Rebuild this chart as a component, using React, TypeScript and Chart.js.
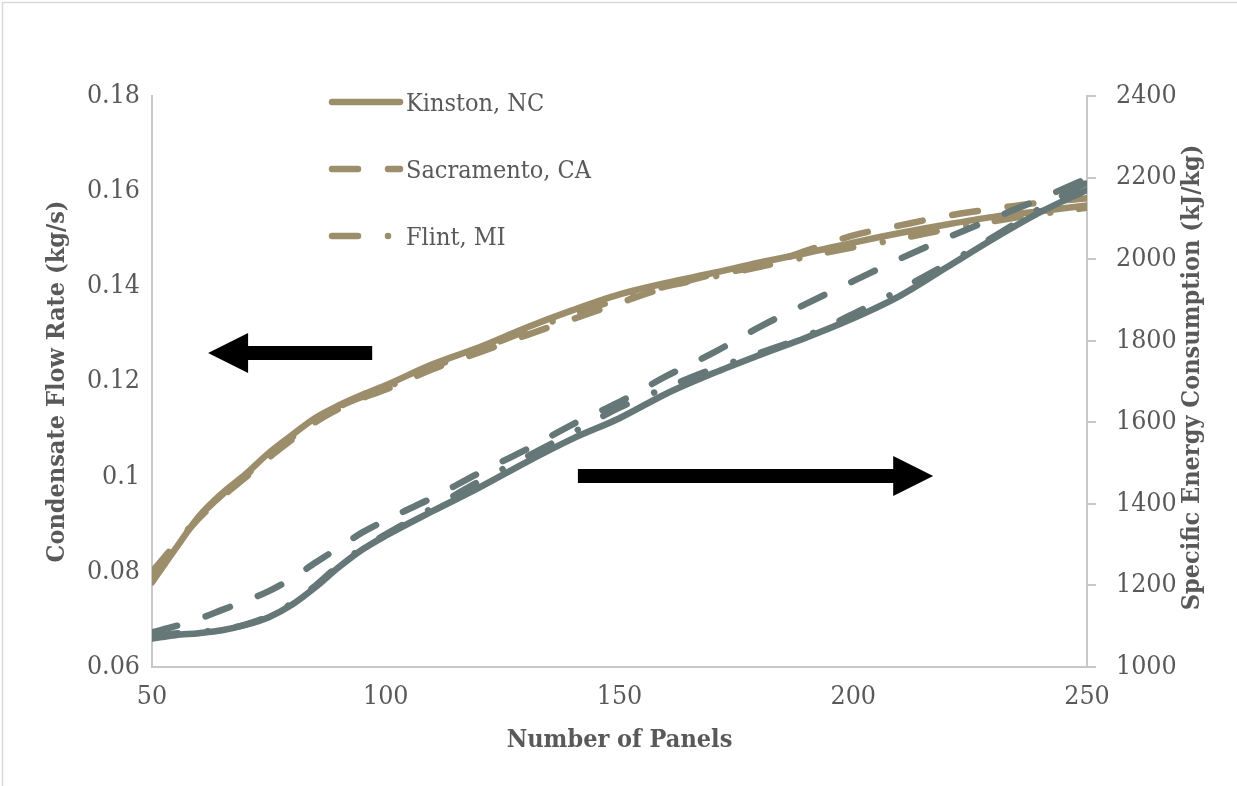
import React, { useEffect, useRef } from 'react';
import { Chart, registerables } from 'chart.js';
Chart.register(...registerables);

// ---------- data ----------
const panels = [50, 55, 60, 65, 70, 75, 80, 85, 90, 95, 100, 110, 120, 130, 140, 150, 160, 170, 180, 190, 200, 210, 220, 230, 240, 250];

// Condensate flow rate (kg/s), left axis
const kinstonFlow = [0.0778, 0.0848, 0.0916, 0.0965, 0.1005, 0.1050, 0.1088, 0.1124, 0.1150, 0.1172, 0.1192, 0.1236, 0.1272, 0.1313, 0.1350, 0.1383, 0.1407, 0.1428, 0.1450, 0.1470, 0.1492, 0.1512, 0.1530, 0.1546, 0.1558, 0.1570];
const sacramentoFlow = [0.0795, 0.0855, 0.0912, 0.0958, 0.0998, 0.1040, 0.1078, 0.1115, 0.1143, 0.1165, 0.1183, 0.1226, 0.1261, 0.1297, 0.1331, 0.1365, 0.1398, 0.1425, 0.1442, 0.1475, 0.1507, 0.1528, 0.1548, 0.1563, 0.1576, 0.1585];
const flintFlow = [0.0800, 0.0858, 0.0915, 0.0962, 0.1002, 0.1045, 0.1083, 0.1120, 0.1147, 0.1168, 0.1187, 0.1230, 0.1267, 0.1306, 0.1341, 0.1373, 0.1400, 0.1420, 0.1441, 0.1462, 0.1482, 0.1500, 0.1520, 0.1537, 0.1552, 0.1565];

// Specific energy consumption (kJ/kg), right axis
const kinstonSEC = [1070, 1078, 1083, 1090, 1103, 1122, 1153, 1196, 1245, 1288, 1322, 1382, 1440, 1502, 1560, 1610, 1670, 1720, 1765, 1808, 1855, 1910, 1980, 2050, 2115, 2170];
const sacramentoSEC = [1085, 1100, 1118, 1140, 1162, 1186, 1218, 1256, 1293, 1330, 1360, 1415, 1476, 1533, 1595, 1650, 1713, 1770, 1834, 1891, 1946, 2001, 2052, 2100, 2148, 2198];
const flintSEC = [1075, 1082, 1086, 1092, 1104, 1125, 1157, 1200, 1250, 1292, 1325, 1390, 1455, 1515, 1575, 1636, 1685, 1731, 1770, 1812, 1866, 1925, 1988, 2055, 2125, 2188];

const xTicks = [50, 100, 150, 200, 250];
const leftTicks = [0.06, 0.08, 0.1, 0.12, 0.14, 0.16, 0.18];
const rightTicks = [1000, 1200, 1400, 1600, 1800, 2000, 2200, 2400];
const legendLabels = ['Kinston, NC', 'Sacramento, CA', 'Flint, MI'];

const xTitle = 'Number of Panels';
const leftTitle = 'Condensate Flow Rate (kg/s)';
const rightTitle = 'Specific Energy Consumption (kJ/kg)';

// arrows: [fromPanel, toPanel, value, axis]
const arrowFrom = [97.1, 141.1];
const arrowTo = [62.0, 217.1];
const arrowValue = [0.126, 1468];
const arrowAxis = ['y', 'y1'];

// ---------- styles ----------
const TAN = '#9c8e6b';
const GRAY = '#667778';
const TEXT = '#595959';
const AXIS = '#c8c8c8';
const FONT = "'DejaVu Serif Condensed', 'Liberation Serif', serif";
const DASH = [26, 30];
const DASHDOT = [26, 30, 0.01, 29];
const LW = 6.5;

function pts(arr: number[]) {
  return panels.map((x, i) => ({ x, y: arr[i] }));
}

function line(label: string, arr: number[], color: string, dash: number[], axis: string, order: number) {
  return {
    label,
    data: pts(arr),
    borderColor: color,
    backgroundColor: color,
    borderWidth: LW,
    borderDash: dash,
    borderCapStyle: 'round' as const,
    borderJoinStyle: 'round' as const,
    pointRadius: 0,
    pointHoverRadius: 0,
    tension: 0.4,
    cubicInterpolationMode: 'monotone' as const,
    yAxisID: axis,
    order,
  };
}

const extrasPlugin = {
  id: 'extras',
  afterDraw(chart: any) {
    const ctx = chart.ctx;
    const area = chart.chartArea;
    const xs = chart.scales.x;
    ctx.save();
    // outer frame (top and left edges visible)
    ctx.strokeStyle = '#d9d9d9';
    ctx.lineWidth = 1.5;
    ctx.beginPath();
    ctx.moveTo(2.5, chart.height);
    ctx.lineTo(2.5, 2.5);
    ctx.lineTo(chart.width, 2.5);
    ctx.stroke();

    // arrows
    ctx.fillStyle = '#000';
    for (let i = 0; i < arrowFrom.length; i++) {
      const ys = chart.scales[arrowAxis[i]];
      const x0 = xs.getPixelForValue(arrowFrom[i]);
      const x1 = xs.getPixelForValue(arrowTo[i]);
      const y = ys.getPixelForValue(arrowValue[i]);
      const dir = x1 > x0 ? 1 : -1;
      const head = 40;
      const halfHead = 20;
      const halfShaft = 7;
      const xb = x1 - dir * head;
      ctx.beginPath();
      ctx.moveTo(x0, y - halfShaft);
      ctx.lineTo(xb, y - halfShaft);
      ctx.lineTo(xb, y - halfHead);
      ctx.lineTo(x1, y);
      ctx.lineTo(xb, y + halfHead);
      ctx.lineTo(xb, y + halfShaft);
      ctx.lineTo(x0, y + halfShaft);
      ctx.closePath();
      ctx.fill();
    }

    // legend (tan series)
    const dashes = [[], DASH, DASHDOT];
    const lx0 = area.left + 180;
    const lx1 = area.left + 248;
    const ly0 = area.top + 6;
    const lstep = 67;
    ctx.font = `25px ${FONT}`;
    ctx.textAlign = 'left';
    ctx.textBaseline = 'alphabetic';
    for (let i = 0; i < legendLabels.length; i++) {
      const y = ly0 + i * lstep;
      ctx.strokeStyle = TAN;
      ctx.lineWidth = LW;
      ctx.lineCap = 'round';
      ctx.setLineDash(dashes[i]);
      ctx.beginPath();
      ctx.moveTo(lx0, y);
      ctx.lineTo(lx1, y);
      ctx.stroke();
      ctx.setLineDash([]);
      ctx.fillStyle = TEXT;
      ctx.fillText(legendLabels[i], lx1 + 6, y + 9);
    }

    // right axis title (reads bottom to top)
    ctx.font = `bold 25px ${FONT}`;
    ctx.fillStyle = TEXT;
    ctx.textAlign = 'center';
    ctx.textBaseline = 'middle';
    ctx.translate(chart.width - 45, (area.top + area.bottom) / 2 - 4);
    ctx.rotate(-Math.PI / 2);
    ctx.fillText(rightTitle, 0, 0);
    ctx.restore();
  },
};

export default function App() {
  const ref = useRef<HTMLCanvasElement | null>(null);

  useEffect(() => {
    if (!ref.current) return;
    const tickFont = { family: FONT, size: 26.5 };
    const titleFont = { family: FONT, size: 25, weight: 'bold' as const };
    const chart = new Chart(ref.current, {
      type: 'line',
      data: {
        datasets: [
          line(legendLabels[0], kinstonFlow, TAN, [], 'y', 1),
          line(legendLabels[1], sacramentoFlow, TAN, DASH, 'y', 1),
          line(legendLabels[2], flintFlow, TAN, DASHDOT, 'y', 1),
          line(legendLabels[0] + ' SEC', kinstonSEC, GRAY, [], 'y1', 0),
          line(legendLabels[1] + ' SEC', sacramentoSEC, GRAY, DASH, 'y1', 0),
          line(legendLabels[2] + ' SEC', flintSEC, GRAY, DASHDOT, 'y1', 0),
        ],
      },
      options: {
        responsive: false,
        animation: false,
        layout: { padding: { top: 96, left: 0, right: 0, bottom: 0 } },
        plugins: {
          legend: { display: false },
          tooltip: { enabled: false },
          title: { display: false },
        },
        scales: {
          x: {
            type: 'linear',
            min: 50,
            max: 250,
            afterBuildTicks: (s: any) => { s.ticks = xTicks.map((v) => ({ value: v })); },
            afterFit: (s: any) => { s.height = 119; },
            ticks: { font: tickFont, color: TEXT, padding: 14, maxRotation: 0, callback: (v: any) => String(v) },
            grid: { display: false, drawTicks: false },
            border: { display: true, color: AXIS, width: 2 },
            title: { display: true, text: xTitle, font: titleFont, color: TEXT, padding: { top: 0, bottom: 31 } },
          },
          y: {
            type: 'linear',
            position: 'left',
            min: 0.06,
            max: 0.18,
            afterBuildTicks: (s: any) => { s.ticks = leftTicks.map((v) => ({ value: v })); },
            afterFit: (s: any) => { s.width = 152; },
            ticks: { font: tickFont, color: TEXT, padding: 12, callback: (v: any) => String(parseFloat(Number(v).toFixed(2))) },
            grid: { display: false, drawTicks: false },
            border: { display: true, color: AXIS, width: 2 },
            title: { display: true, text: leftTitle, font: titleFont, color: TEXT, padding: { top: 42, bottom: 0 } },
          },
          y1: {
            type: 'linear',
            position: 'right',
            min: 1000,
            max: 2400,
            afterBuildTicks: (s: any) => { s.ticks = rightTicks.map((v) => ({ value: v })); },
            afterFit: (s: any) => { s.width = 150; },
            ticks: { font: tickFont, color: TEXT, padding: 20, callback: (v: any) => String(v) },
            grid: { display: true, drawOnChartArea: false, drawTicks: true, tickLength: 9, color: AXIS, lineWidth: 2 },
            border: { display: true, color: AXIS, width: 2 },
            title: { display: false },
          },
        },
      },
      plugins: [extrasPlugin],
    } as any);
    return () => chart.destroy();
  }, []);

  return (
    <div style={{ position: 'absolute', left: 0, top: 0, width: 1237, height: 786, background: '#fff' }}>
      <canvas ref={ref} width={1237} height={786} style={{ display: 'block', width: 1237, height: 786 }} />
    </div>
  );
}
